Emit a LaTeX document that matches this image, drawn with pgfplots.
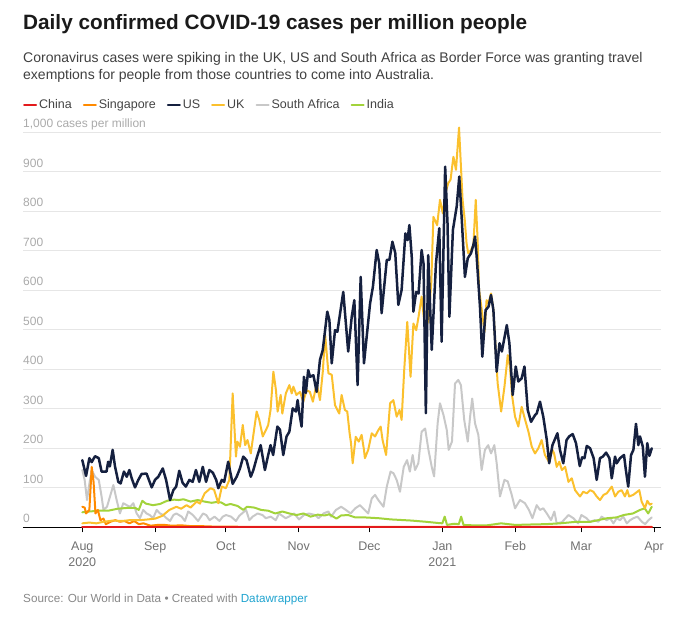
\documentclass[border=0pt]{standalone}
\usepackage{fontspec}
\setmainfont{Liberation Sans}
\usepackage{pgfplots}
\pgfplotsset{compat=1.18}
\definecolor{cChina}{HTML}{E31A1C}
\definecolor{cSing}{HTML}{FF8A00}
\definecolor{cUS}{HTML}{15203F}
\definecolor{cUK}{HTML}{FBC02D}
\definecolor{cSA}{HTML}{C8C8C8}
\definecolor{cIndia}{HTML}{A2D33B}
\definecolor{cGrid}{HTML}{E6E6E6}
\definecolor{cYtick}{HTML}{AAAAAA}
\definecolor{cXtick}{HTML}{707070}
\definecolor{cTitle}{HTML}{1A1A1A}
\definecolor{cSub}{HTML}{404040}
\definecolor{cLeg}{HTML}{444444}
\definecolor{cSrc}{HTML}{888888}
\definecolor{cDW}{HTML}{1FA3CF}
\begin{document}
\begin{tikzpicture}
\useasboundingbox (-23pt,-90.7pt) rectangle (671pt,527.3pt);
\begin{axis}[
  at={(0pt,0pt)}, anchor=south west,
  scale only axis, width=637.7pt, height=395pt,
  xmin=-25.2, xmax=245.8, ymin=0, ymax=1000,
  axis x line*=bottom, axis y line*=left,
  x axis line style={-, black, line width=1pt},
  y axis line style={draw=none},
  ytick={0,100,...,1000},
  yticklabels={0,100,200,300,400,500,600,700,800,900,{1,000 cases per million}},
  ytick style={draw=none},
  yticklabel style={anchor=base west, inner sep=0pt, xshift=0pt, yshift=4.5pt, text=cYtick, font=\fontsize{12}{14}\selectfont},
  ymajorgrids, grid style={cGrid, line width=0.9pt},
  xtick={0,31,61,92,122,153,184,212,243},
  xticklabels={{Aug\\2020},Sep,Oct,Nov,Dec,{Jan\\2021},Feb,Mar,Apr},
  xtick align=outside, major tick length=5pt,
  xtick style={black, line width=0.8pt},
  xticklabel style={align=center, anchor=north, text=cXtick, font=\fontsize{12.5}{16}\selectfont, yshift=-6pt},
  clip=false,
  every axis plot/.append style={line join=round, line cap=round},
  legend style={at={(0,1.069)}, anchor=west, draw=none, fill=none, inner sep=0pt,
    font=\fontsize{12.5}{14}\selectfont, text=cLeg,
    /tikz/every even column/.append style={column sep=9pt}},
  legend columns=-1,
  legend image code/.code={\draw[#1, line width=2pt] (0pt,0pt) -- (12pt,0pt);},
]
% South Africa
\addplot[cSA, line width=2pt, forget plot] coordinates {
(0,145) (1,120) (2,69) (3,110) (4,145) (5.4,128) (7,120) (8.2,78) (9,44) (10.5,52)
(13.2,107) (14.6,69) (16,35) (17.4,61) (18.9,56) (20.3,52) (21.7,61) (23.1,35) (24.5,23)
(25.9,44) (27.3,35) (28.7,31) (30.1,23) (31.6,44) (33,35) (34.4,31) (35.8,23) (37.3,16)
(38.7,31) (40,35) (42.2,27) (43.6,16) (45,40) (47,31) (49.2,16) (51.3,35) (52.7,31)
(54.1,18) (56.2,27) (58.3,16) (59.7,27) (61.1,31) (63.2,27) (65.3,16) (66.7,29) (69.6,44)
(71,18) (72.4,27) (74.5,35) (76.6,31) (78,23) (80.1,27) (82.2,18) (83.6,35) (86.4,23)
(87.8,27) (90,35) (92.1,20) (94.2,31) (96.3,35) (99,31) (100.4,23) (102.5,35) (104.6,40)
(105.7,27) (107.8,44) (110,52) (112,44) (114,35) (116,48) (118,56) (120,44) (121.5,35)
(123,73) (124.4,82) (125.8,69) (128,52) (129.4,103) (131,141) (132.2,137) (133.6,120)
(135,90) (136.6,153) (138,170) (139.2,141) (140.4,183) (141.4,145) (142.8,162) (144.2,242)
(145.7,250) (147.1,196) (148.5,153) (149.5,129) (151,263) (152,314) (153.5,284) (154.9,246)
(155.7,196) (157.1,217) (158.4,364) (159.8,373) (160.9,360) (162.3,272) (163.8,217)
(164.8,280) (165.7,326) (166.9,263) (168.3,234) (169.7,145) (171.1,196) (172.5,208)
(173.7,187) (175.1,208) (176.1,162) (177.5,78) (179.4,120) (180.8,116) (182.5,82)
(183.9,48) (186,69) (188.1,61) (189.8,44) (191.3,23) (193.1,56) (194.5,44) (195.9,48)
(197.4,35) (199.2,18) (200.6,40) (201.6,10) (203.8,13) (206.6,31) (208.7,23) (210.7,10)
(212.1,31) (214.3,23) (215.7,14) (217.8,18) (219.3,14) (220.7,27) (222.8,18) (224.3,23)
(225.7,10) (227.1,23) (228.5,18) (229.9,27) (231.4,10) (232.8,18) (234.2,23) (235.9,27)
(237.8,14) (239.2,8) (240.6,18) (242,25)
};
% India
\addplot[cIndia, line width=2pt, forget plot] coordinates {
(0,38) (3,40) (7,42) (11,42) (15,47) (19,49) (22.5,49) (24,44) (25.5,67) (27,60) (30,56)
(33,59) (36,67) (39,70) (41,69) (43,71) (46,65) (49,69) (52,65) (55,62) (57,64) (59,63)
(61,56) (63,59) (66,54) (68.4,44) (70,52) (73,50) (76,44) (79,42) (82,35) (85,40) (88,35)
(91,31) (94,35) (97,27) (100,32) (103,30) (105,33) (108,22) (110,30) (113,31) (116,25)
(120,25) (126,23) (131,20) (140,17) (146,14) (151,11) (153,10) (154,27) (155,6) (158,9)
(160,8) (161,27) (162,6) (166,5) (172,5) (178,10) (184,6) (190,7) (197,8) (203,10)
(210,14) (216,14) (223,23) (227,25) (230,31) (234,35) (237,44) (239,48) (240.5,35) (242,52)
};
% Singapore
\addplot[cSing, line width=2pt, forget plot] coordinates {
(0,52) (1,50) (1.6,35) (3,44) (4,153) (4.8,114) (5.6,35) (6.6,44) (7.7,18) (9,22) (10,8)
(12,14) (14,18) (16,14) (18,16) (20,10) (22,16) (24,8) (26,10) (29,4) (32,6) (35,6) (38,4)
(42,5) (46,3) (50,3) (55,2) (60,2) (70,1) (80,1) (100,1) (120,1) (150,1) (180,1) (210,1) (242,1)
};
% UK
\addplot[cUK, line width=2pt, forget plot] coordinates {
(0,10) (3,12) (6,10) (9,14) (13,17) (17,16) (20,18) (24.5,18) (28,20) (31,22) (34,29)
(37,44) (40,52) (42,47) (44.3,56) (46,50) (48.6,65) (50,60) (52,86) (54.5,99) (56,95)
(57.8,61) (59.3,103) (61,99) (62.5,120) (63.9,339) (65.3,179) (65.9,217) (67,204) (68.2,259)
(69.2,208) (70.2,221) (71.6,187) (72.7,234) (74.1,293) (75.2,272) (76.7,230) (78.1,247)
(79,259) (80,297) (81.2,394) (82.3,347) (83,293) (84.3,335) (85,288) (86.5,339) (88,360)
(89,339) (89.7,356) (91,335) (92.5,343) (93.9,318) (95.3,347) (96.7,343) (98,318)
(99.6,364) (101,322) (102.2,394) (103.2,487) (104.6,390) (106,386) (107.4,309) (109.2,288)
(110.2,335) (111.6,297) (112.6,293) (113.6,238) (114.2,213) (114.9,162) (116.2,229)
(117.5,217) (118.7,234) (119.7,196) (120.1,175) (121.5,196) (123,238) (124.4,230)
(125.8,246) (126.8,255) (127.6,221) (129.1,183) (130.8,314) (132.2,322) (133.6,280)
(134.8,297) (135.7,272) (136.8,398) (138.1,520) (139.5,381) (140.7,516) (141.9,499)
(142.9,533) (144.2,584) (145.7,499) (147.1,525) (148.3,620) (149.2,786) (150.8,765)
(152,829) (153.2,795) (154.5,850) (155.5,871) (156.5,880) (157.7,938) (158.8,905)
(160.1,1012) (161.6,829) (162.5,780) (163.3,719) (164,694) (165.2,702) (166.2,715)
(167.2,829) (168,727) (168.6,601) (169.4,567) (170.9,495) (171.8,575) (172.6,567)
(173.7,592) (174.7,550) (176.5,365) (178,293) (179.4,356) (180.8,436) (181.7,407)
(182.7,331) (183.9,280) (185.3,255) (186.7,305) (188,276) (189.6,242) (191,204) (192.4,187)
(193.8,200) (195.2,221) (196.6,183) (198.3,166) (199.8,196) (200.5,187) (201.6,153)
(202.7,166) (203.8,145) (205.2,153) (206.6,115) (208,124) (209.4,94) (211.5,78) (212.9,90)
(214.4,86) (215.8,94) (217.2,90) (218.6,78) (220,69) (221.5,82) (222.9,86) (225,103)
(226.4,78) (227.8,90) (229.2,94) (230.6,78) (231.6,94) (232.4,78) (234.1,82) (236.7,94)
(237.7,65) (239.1,48) (240.1,67) (241.2,57) (242,60)
};
% US
\addplot[cUS, line width=2.5pt, forget plot] coordinates {
(0,170) (1.6,130) (3,175) (4,165) (5.4,180) (7,175) (8.2,141) (10.3,141) (11,166) (11.7,154)
(12.9,196) (13.9,154) (15.3,115) (16.3,111) (17.7,141) (18.9,128) (20,145) (21,124)
(22.4,101) (23.8,120) (25.2,135) (27.3,136) (29.5,101) (30.9,120) (32.3,128) (34.2,149)
(35.6,120) (37.3,69) (38.7,94) (39.9,103) (41.2,143) (42.6,113) (44,103) (45.5,120)
(46.9,115) (48.3,145) (49.7,115) (51.2,153) (52.6,115) (54,145) (55.5,138) (56.9,120)
(57.8,99) (59.3,120) (60.3,115) (62,166) (63.9,110) (65.6,128) (67,149) (68.4,179)
(69.8,170) (71.6,128) (72.7,145) (74.1,175) (75.8,208) (77.6,145) (79,183) (80,208)
(81.1,183) (82.9,255) (84,247) (85.4,183) (86.8,230) (88,242) (89.4,301) (90.8,293)
(91.5,322) (92.2,290) (93.2,255) (94.2,381) (95,340) (96,398) (96.8,381) (98.2,385)
(99.6,343) (101,424) (102.2,449) (104.1,546) (105,525) (106,415) (107.4,499) (108.4,495)
(110.9,596) (113,445) (114.5,533) (115.6,575) (117,360) (118.3,634) (119.7,415) (122.3,567)
(123.5,609) (125.1,702) (126.2,668) (127.2,542) (129.4,677) (130.5,677) (131.8,723)
(133,694) (134.3,563) (135.7,601) (137.3,744) (138.2,727) (139,765) (140,685) (140.7,546)
(141.9,596) (142.9,592) (144.2,702) (145,668) (146,289) (147,689) (148.5,449) (150.3,668)
(151.7,757) (152.7,470) (154.2,913) (155.2,770) (156,533) (157.5,753) (159.1,812)
(160.2,888) (161.2,786) (162.6,634) (163.8,681) (165.2,694) (166.2,715) (166.9,736)
(167.6,685) (169,558) (170,432) (171.4,550) (172.6,558) (173.7,588) (174.7,550) (176.1,394)
(177.3,466) (178.3,445) (180.4,512) (181.5,466) (182.9,335) (184.2,407) (185.3,369)
(186.7,377) (187.9,407) (189.3,297) (190.7,267) (192.4,284) (193.1,288) (194.5,318)
(195.9,280) (197.4,221) (198.4,162) (199.8,208) (201.9,238) (203,196) (204.4,162)
(205.8,221) (206.9,230) (208.4,236) (209.8,213) (211.4,155) (212.4,177) (213.4,175)
(214.4,206) (215.8,200) (217.3,175) (218.6,120) (220,175) (221.2,179) (222.6,189) (224,175)
(225,124) (226.4,179) (227.1,162) (228.5,175) (230.2,183) (231,145) (232,103) (233.2,183)
(234.2,196) (235.3,262) (236.3,208) (237,230) (238.2,204) (239.1,128) (240.1,213) (241,181)
(242,200)
};
% China
\addplot[cChina, line width=2.5pt, forget plot] coordinates {
(0,0.5) (60,0.5) (120,0.5) (180,0.5) (242,0.5)
};
\addlegendimage{cChina}\addlegendentry{China}
\addlegendimage{cSing}\addlegendentry{Singapore}
\addlegendimage{cUS}\addlegendentry{US}
\addlegendimage{cUK}\addlegendentry{UK}
\addlegendimage{cSA}\addlegendentry{South Africa}
\addlegendimage{cIndia}\addlegendentry{India}
\end{axis}
\node[anchor=base west, inner sep=0pt, text=cTitle, font=\fontsize{20.75}{24}\selectfont\bfseries] at (0pt,497.3pt) {Daily confirmed COVID-19 cases per million people};
\node[anchor=base west, inner sep=0pt, text=cSub, font=\fontsize{14}{17}\selectfont] at (0pt,464.3pt) {Coronavirus cases were spiking in the UK, US and South Africa as Border Force was granting travel};
\node[anchor=base west, inner sep=0pt, text=cSub, font=\fontsize{14}{17}\selectfont] at (0pt,447.3pt) {exemptions for people from those countries to come into Australia.};
\node[anchor=base west, inner sep=0pt, text=cSrc, font=\fontsize{11.7}{14}\selectfont] at (0pt,-75.2pt) {Source: Our World in Data • Created with \textcolor{cDW}{Datawrapper}};
\end{tikzpicture}
\end{document}
